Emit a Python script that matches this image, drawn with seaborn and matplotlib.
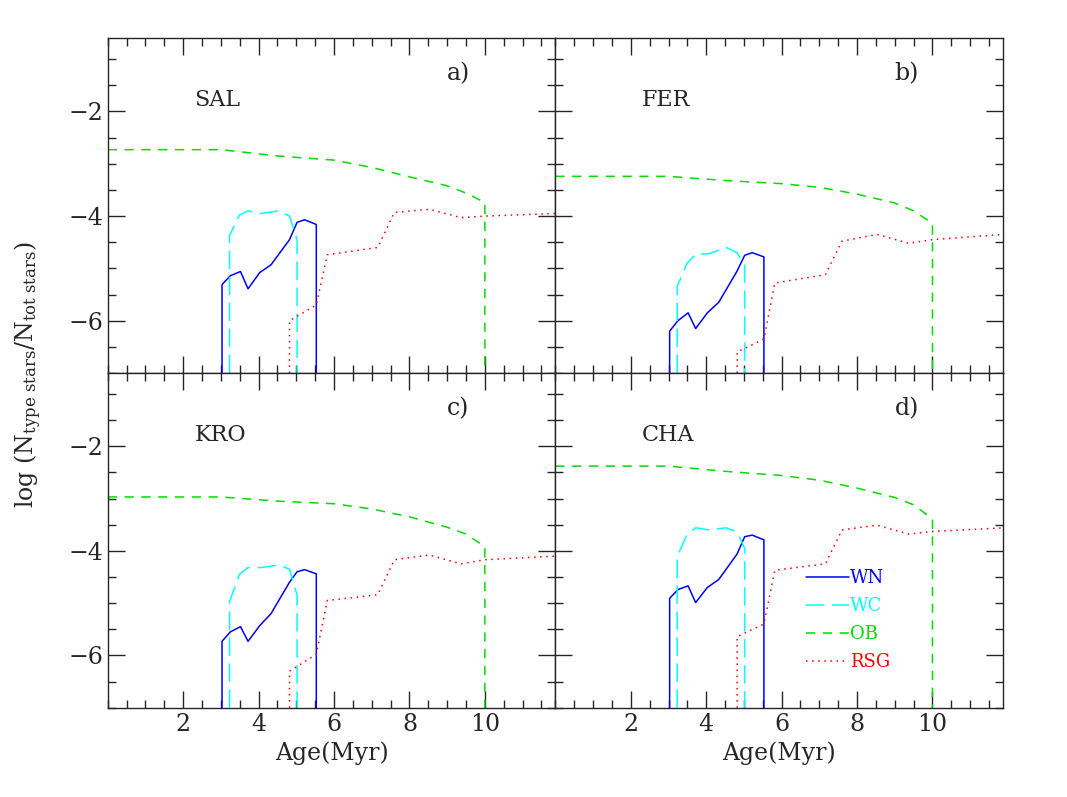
import numpy as np
import pandas as pd
import matplotlib
matplotlib.use("Agg")
import matplotlib.pyplot as plt
import seaborn as sns
from matplotlib.ticker import MultipleLocator

sns.set_style("ticks")
plt.rcParams["font.family"] = ["DejaVu Serif"]
plt.rcParams["mathtext.fontset"] = "dejavuserif"

# ages (Myr) of the tracks, shared by every panel
wn_age = [3.03, 3.03, 3.25, 3.52, 3.72, 4.03, 4.33, 4.82, 5.02, 5.22, 5.53, 5.53]
wc_age = [3.23, 3.23, 3.49, 3.72, 4.07, 4.53, 4.82, 5.02, 5.02]
ob_age = [0.0, 3.0, 4.5, 6.0, 7.0, 8.0, 9.0, 9.5, 10.0, 10.0]
rsg_age = [4.82, 4.82, 5.53, 5.82, 7.16, 7.6, 8.53, 9.37, 10.0, 11.9]

# log(N_type / N_tot) per panel
wn = {
    "a": [-7, -5.31, -5.14, -5.06, -5.39, -5.08, -4.93, -4.45, -4.12, -4.07, -4.16, -7],
    "b": [-7, -6.20, -6.00, -5.85, -6.15, -5.85, -5.65, -5.05, -4.75, -4.70, -4.78, -7],
    "c": [-7, -5.73, -5.55, -5.45, -5.73, -5.43, -5.20, -4.60, -4.40, -4.36, -4.44, -7],
    "d": [-7, -4.91, -4.74, -4.67, -4.99, -4.70, -4.55, -4.06, -3.73, -3.70, -3.79, -7],
}
wc = {
    "a": [-7, -4.37, -3.98, -3.90, -3.95, -3.90, -4.00, -4.45, -7],
    "b": [-7, -5.35, -4.90, -4.73, -4.72, -4.60, -4.70, -4.95, -7],
    "c": [-7, -4.97, -4.45, -4.32, -4.32, -4.27, -4.35, -4.85, -7],
    "d": [-7, -4.11, -3.69, -3.56, -3.60, -3.56, -3.64, -3.95, -7],
}
ob = {
    "a": [-2.73, -2.73, -2.85, -2.93, -3.07, -3.25, -3.42, -3.56, -3.74, -7],
    "b": [-3.24, -3.24, -3.32, -3.38, -3.45, -3.58, -3.75, -3.90, -4.14, -7],
    "c": [-2.97, -2.97, -3.05, -3.10, -3.20, -3.35, -3.55, -3.68, -3.92, -7],
    "d": [-2.38, -2.38, -2.48, -2.56, -2.65, -2.80, -2.98, -3.12, -3.39, -7],
}
rsg = {
    "a": [-7, -6.00, -5.70, -4.74, -4.60, -3.93, -3.87, -4.03, -4.00, -3.95],
    "b": [-7, -6.60, -6.35, -5.28, -5.12, -4.48, -4.35, -4.52, -4.45, -4.35],
    "c": [-7, -6.30, -5.98, -4.95, -4.84, -4.17, -4.08, -4.25, -4.17, -4.10],
    "d": [-7, -5.64, -5.40, -4.37, -4.25, -3.60, -3.51, -3.68, -3.63, -3.56],
}
panel_names = {"a": "SAL", "b": "FER", "c": "KRO", "d": "CHA"}
colors = ["#0000ff", "#00ffff", "#00dd00", "#ff0000"]

fig, axes = plt.subplots(2, 2, figsize=(10.67, 7.97), dpi=100, sharex=True, sharey=True)
fig.subplots_adjust(left=0.101, right=0.94, top=0.952, bottom=0.112, hspace=0, wspace=0)

for ax, key in zip(axes.flat, ["a", "b", "c", "d"]):
    sns.lineplot(x=wn_age, y=wn[key], ax=ax, sort=False, estimator=None,
                 color=colors[0], lw=1.1, label="WN" if key == "d" else None)
    sns.lineplot(x=wc_age, y=wc[key], ax=ax, sort=False, estimator=None,
                 color=colors[1], lw=1.1, label="WC" if key == "d" else None)
    ax.lines[-1].set_dashes([12, 5])
    sns.lineplot(x=ob_age, y=ob[key], ax=ax, sort=False, estimator=None,
                 color=colors[2], lw=1.1, label="OB" if key == "d" else None)
    ax.lines[-1].set_dashes([6, 5])
    sns.lineplot(x=rsg_age, y=rsg[key], ax=ax, sort=False, estimator=None,
                 color=colors[3], lw=1.1, label="RSG" if key == "d" else None)
    ax.lines[-1].set_dashes([1, 3])

    ax.set_xlim(0, 11.87)
    ax.set_ylim(-7, -0.6)
    ax.xaxis.set_major_locator(MultipleLocator(2))
    ax.xaxis.set_minor_locator(MultipleLocator(0.5))
    ax.yaxis.set_major_locator(MultipleLocator(2))
    ax.yaxis.set_minor_locator(MultipleLocator(0.5))
    ax.tick_params(which="both", direction="in", top=True, right=True, labelsize=17)
    ax.tick_params(which="major", length=12, width=1)
    ax.tick_params(which="minor", length=6, width=1)
    for s in ax.spines.values():
        s.set_linewidth(1)
    ax.text(2.3, -1.9, panel_names[key], fontsize=16)
    ax.text(9.0, -1.4, key + ")", fontsize=17)
    ax.set_xlabel("")
    ax.set_ylabel("")

for ax in axes[1]:
    ax.set_xlabel("Age(Myr)", fontsize=17)

# drop the "0" of the right panel, it would sit on the left panel's edge
axes[1, 1].set_xticks([2, 4, 6, 8, 10])

leg = axes[1, 1].legend(loc="upper left", bbox_to_anchor=(0.54, 0.44), frameon=False,
                        fontsize=13, handlelength=2.4, handletextpad=0.05,
                        labelspacing=0.55, borderpad=0)
for txt, c in zip(leg.get_texts(), colors):
    txt.set_color(c)

fig.text(0.012, 0.53, r"log (N$_{\rm type\ stars}$/N$_{\rm tot\ stars}$)",
         rotation=90, va="center", ha="left", fontsize=17)

fig.savefig("out.png", dpi=100)
